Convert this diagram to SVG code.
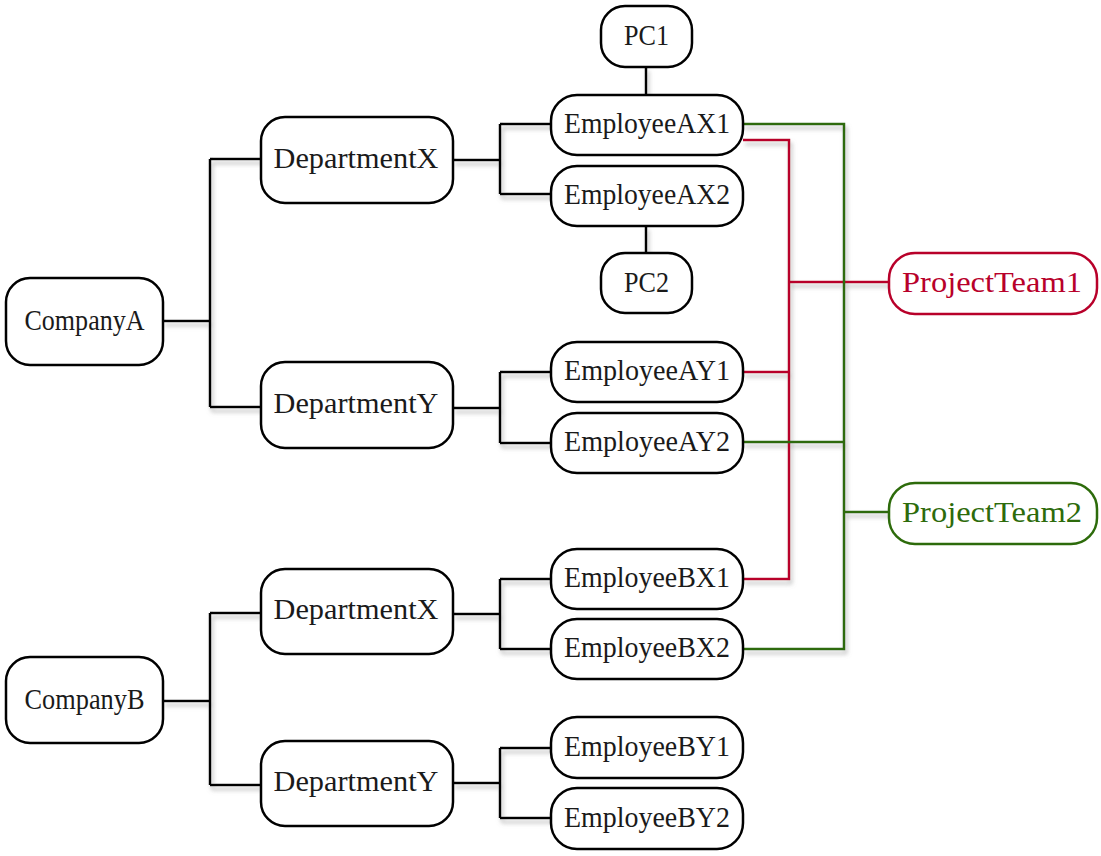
<svg xmlns="http://www.w3.org/2000/svg" width="1101" height="856" viewBox="0 0 1101 856">
<style>
.box{fill:#fff;stroke:#000;stroke-width:2.5}
.t{font-family:"Liberation Serif","DejaVu Serif",serif;font-size:29px;fill:#1a1a1a;text-anchor:middle}
.red .box{stroke:#b8002a}
.red .t{fill:#b8002a}
.green .box{stroke:#2d6b0b}
.green .t{fill:#2d6b0b}
.c{fill:none;stroke:#000;stroke-width:2.5}
.cr{fill:none;stroke:#b8002a;stroke-width:2.5}
.cg{fill:none;stroke:#2d6b0b;stroke-width:2.5}
</style>
<defs>
<filter id="sh" x="-10%" y="-10%" width="120%" height="120%">
<feDropShadow dx="2" dy="4" stdDeviation="2" flood-color="#888" flood-opacity="0.55"/>
</filter>
</defs>
<rect width="1101" height="856" fill="#fff"/>
<g id="connectors" filter="url(#sh)">
<path class="c" d="M163,321H210M210,159V407M210,159H261M210,407H261"/>
<path class="c" d="M163,701H210M210,613V785M210,613H261M210,785H261"/>
<path class="c" d="M453,160H500M500,124V194M500,124H551M500,194H551"/>
<path class="c" d="M453,408H500M500,372V443M500,372H551M500,443H551"/>
<path class="c" d="M453,614H500M500,579V649M500,579H551M500,649H551"/>
<path class="c" d="M453,783H500M500,748V818M500,748H551M500,818H551"/>
<path class="c" d="M646,67V95M646,226V253"/>
<path class="cr" d="M743,140H789V579H743M743,372H789M789,282H889"/>
<path class="cg" d="M743,124H844V649H743M743,442H844M844,512H889"/>
</g>
<g id="CompanyA"><rect class="box" x="6" y="278" width="157" height="87" rx="24"/><text class="t" x="84.5" y="330" textLength="120" lengthAdjust="spacingAndGlyphs">CompanyA</text></g>
<g id="CompanyB"><rect class="box" x="6" y="657" width="157" height="86" rx="24"/><text class="t" x="84.5" y="709" textLength="120" lengthAdjust="spacingAndGlyphs">CompanyB</text></g>
<g id="DeptAX"><rect class="box" x="261" y="117" width="192" height="86" rx="24"/><text class="t" x="356" y="168" textLength="165" lengthAdjust="spacingAndGlyphs">DepartmentX</text></g>
<g id="DeptAY"><rect class="box" x="261" y="362" width="192" height="86" rx="24"/><text class="t" x="356" y="413" textLength="165" lengthAdjust="spacingAndGlyphs">DepartmentY</text></g>
<g id="DeptBX"><rect class="box" x="261" y="569" width="192" height="85" rx="24"/><text class="t" x="356" y="619" textLength="165" lengthAdjust="spacingAndGlyphs">DepartmentX</text></g>
<g id="DeptBY"><rect class="box" x="261" y="741" width="192" height="85" rx="24"/><text class="t" x="356" y="791" textLength="165" lengthAdjust="spacingAndGlyphs">DepartmentY</text></g>
<g id="PC1"><rect class="box" x="601" y="6" width="91" height="61" rx="24"/><text class="t" x="646.5" y="45" textLength="45" lengthAdjust="spacingAndGlyphs">PC1</text></g>
<g id="PC2"><rect class="box" x="601" y="253" width="91" height="60" rx="24"/><text class="t" x="646.5" y="292" textLength="45" lengthAdjust="spacingAndGlyphs">PC2</text></g>
<g id="EmpAX1"><rect class="box" x="551" y="95" width="192" height="60" rx="26"/><text class="t" x="647" y="133" textLength="166" lengthAdjust="spacingAndGlyphs">EmployeeAX1</text></g>
<g id="EmpAX2"><rect class="box" x="551" y="166" width="192" height="60" rx="26"/><text class="t" x="647" y="204" textLength="166" lengthAdjust="spacingAndGlyphs">EmployeeAX2</text></g>
<g id="EmpAY1"><rect class="box" x="551" y="342" width="192" height="60" rx="26"/><text class="t" x="647" y="380" textLength="166" lengthAdjust="spacingAndGlyphs">EmployeeAY1</text></g>
<g id="EmpAY2"><rect class="box" x="551" y="413" width="192" height="60" rx="26"/><text class="t" x="647" y="451" textLength="166" lengthAdjust="spacingAndGlyphs">EmployeeAY2</text></g>
<g id="EmpBX1"><rect class="box" x="551" y="549" width="192" height="60" rx="26"/><text class="t" x="647" y="587" textLength="166" lengthAdjust="spacingAndGlyphs">EmployeeBX1</text></g>
<g id="EmpBX2"><rect class="box" x="551" y="619" width="192" height="60" rx="26"/><text class="t" x="647" y="657" textLength="166" lengthAdjust="spacingAndGlyphs">EmployeeBX2</text></g>
<g id="EmpBY1"><rect class="box" x="551" y="717" width="192" height="61" rx="26"/><text class="t" x="647" y="756" textLength="166" lengthAdjust="spacingAndGlyphs">EmployeeBY1</text></g>
<g id="EmpBY2"><rect class="box" x="551" y="788" width="192" height="61" rx="26"/><text class="t" x="647" y="827" textLength="166" lengthAdjust="spacingAndGlyphs">EmployeeBY2</text></g>
<g id="ProjectTeam1" class="red"><rect class="box" x="889" y="253" width="208" height="61" rx="26"/><text class="t" x="992" y="292" textLength="180" lengthAdjust="spacingAndGlyphs">ProjectTeam1</text></g>
<g id="ProjectTeam2" class="green"><rect class="box" x="889" y="483" width="208" height="61" rx="26"/><text class="t" x="992" y="522" textLength="180" lengthAdjust="spacingAndGlyphs">ProjectTeam2</text></g>
</svg>
